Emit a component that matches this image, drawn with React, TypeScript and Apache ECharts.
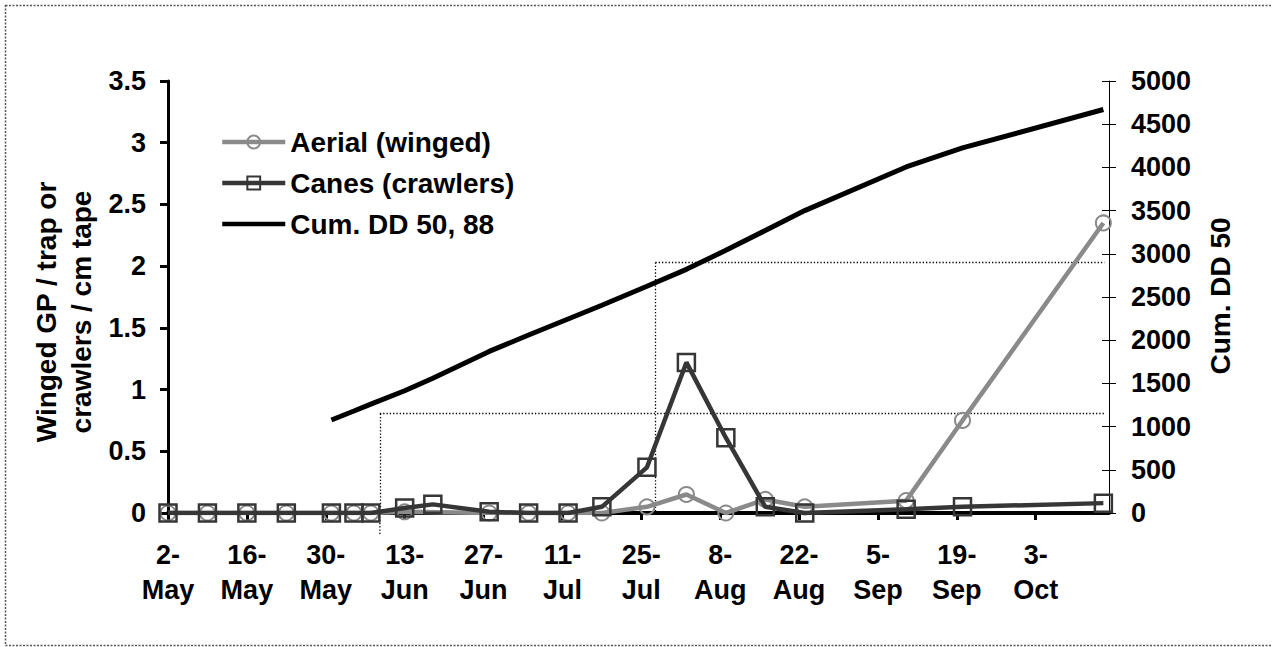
import React, { useEffect, useRef } from 'react';
import * as echarts from 'echarts';

// ---- data (days counted from 2-May) ----
const tickLabels = ['2-\nMay', '16-\nMay', '30-\nMay', '13-\nJun', '27-\nJun', '11-\nJul', '25-\nJul', '8-\nAug', '22-\nAug', '5-\nSep', '19-\nSep', '3-\nOct'];
const tickStepDays = 14;
const axisMaxDay = 167;

const sampleDays = [0, 7, 14, 21, 29, 33, 36, 42, 47, 57, 64, 71, 77, 85, 92, 99, 106, 113, 131, 141, 166];
const aerialWinged = [0, 0, 0, 0, 0, 0, 0, 0.01, null, 0, 0, 0, 0, 0.05, 0.15, 0, 0.11, 0.05, 0.1, 0.75, 2.35];
const canesCrawlers = [0, 0, 0, 0, 0, 0, 0, 0.04, 0.07, 0.01, 0, 0, 0.05, 0.37, 1.22, 0.61, 0.05, 0, 0.03, 0.05, 0.08];

const ddDays = [29, 33, 36, 42, 47, 57, 64, 71, 77, 85, 92, 99, 106, 113, 131, 141, 166];
const cumDD = [1076, 1180, 1260, 1415, 1560, 1870, 2060, 2245, 2405, 2625, 2820, 3040, 3270, 3500, 4005, 4225, 4670];

// reference (dotted) lines: [day, DD]
const refLowDay = 37.6;
const refLowDD = 1150;
const refHighDay = 86.5;
const refHighDD = 2900;
const refEndDay = 166.2;

const FONT = '"Liberation Sans", Arial, Helvetica, sans-serif';
const AERIAL_COLOR = '#8a8a8a';
const CANES_COLOR = '#363636';

export default function App() {
  const ref = useRef<HTMLDivElement>(null);

  useEffect(() => {
    if (!ref.current) return;
    const chart = echarts.init(ref.current, null, { renderer: 'svg' });
    const pair = (xs: number[], ys: (number | null)[]) => xs.map((x, i) => [x, ys[i]]);
    const lbl = { fontFamily: FONT, fontWeight: 'bold' as const, fontSize: 27, color: '#000' };
    const dotted = { color: '#000', width: 1.3, type: [1.3, 2] as any };

    chart.setOption({
      animation: false,
      backgroundColor: '#fff',
      grid: { left: 168, right: 163, top: 81, bottom: 134, containLabel: false, outerBoundsMode: 'none' },
      legend: {
        show: true,
        orient: 'vertical',
        left: 220,
        top: 127,
        padding: 0,
        itemWidth: 63,
        itemHeight: 16,
        itemGap: 11,
        symbolKeepAspect: true,
        lineStyle: { width: 'inherit' },
        textStyle: { ...lbl, fontSize: 28, lineHeight: 30 },
        data: [
          { name: 'Aerial (winged)' },
          { name: 'Canes (crawlers)' },
          {
            name: 'Cum. DD 50, 88',
            icon: 'path://M0,0H63V4.5H0Z',
            itemStyle: { color: '#000', borderWidth: 0 },
          },
        ],
      },
      xAxis: {
        type: 'value',
        min: 0,
        max: axisMaxDay,
        interval: tickStepDays,
        axisLine: { show: true, onZero: false, lineStyle: { color: '#000', width: 4 } },
        axisTick: { show: true, length: 7, lineStyle: { color: '#000', width: 3 } },
        axisLabel: {
          ...lbl,
          lineHeight: 35,
          margin: 24,
          showMaxLabel: false,
          formatter: (v: number) => {
            const i = Math.round(v / tickStepDays);
            return Math.abs(v - i * tickStepDays) < 0.01 && i < tickLabels.length ? tickLabels[i] : '';
          },
        },
        splitLine: { show: false },
      },
      yAxis: [
        {
          type: 'value',
          min: 0,
          max: 3.5,
          interval: 0.5,
          position: 'left',
          axisLine: { show: true, lineStyle: { color: '#000', width: 3 } },
          axisTick: { show: true, length: 8, lineStyle: { color: '#000', width: 3 } },
          axisLabel: { ...lbl, margin: 22, formatter: (v: number) => String(v) },
          splitLine: { show: false },
        },
        {
          type: 'value',
          min: 0,
          max: 5000,
          interval: 500,
          position: 'right',
          axisLine: { show: true, lineStyle: { color: '#000', width: 1 } },
          axisTick: { show: true, length: 7, lineStyle: { color: '#000', width: 1 } },
          axisLabel: { ...lbl, margin: 22, formatter: (v: number) => String(v) },
          splitLine: { show: false },
        },
        {
          type: 'value',
          min: 0,
          max: 5000,
          interval: 500,
          position: 'right',
          axisLine: { show: false },
          axisTick: { show: true, inside: true, length: 7, lineStyle: { color: '#000', width: 1 } },
          axisLabel: { show: false },
          splitLine: { show: false },
        },
      ],
      series: [
        {
          name: 'Aerial (winged)',
          type: 'line',
          yAxisIndex: 0,
          data: pair(sampleDays, aerialWinged),
          connectNulls: true,
          symbol: 'circle',
          symbolSize: 15,
          showAllSymbol: true,
          lineStyle: { color: AERIAL_COLOR, width: 4.5 },
          itemStyle: { color: 'rgba(255,255,255,0)', borderColor: AERIAL_COLOR, borderWidth: 2 },
          z: 3,
        },
        {
          name: 'Canes (crawlers)',
          type: 'line',
          yAxisIndex: 0,
          data: pair(sampleDays, canesCrawlers),
          symbol: 'rect',
          symbolSize: 17,
          showAllSymbol: true,
          lineStyle: { color: CANES_COLOR, width: 4.5 },
          itemStyle: { color: 'rgba(255,255,255,0)', borderColor: CANES_COLOR, borderWidth: 2.5 },
          z: 4,
        },
        {
          name: 'Cum. DD 50, 88',
          type: 'line',
          yAxisIndex: 1,
          data: pair(ddDays, cumDD),
          symbol: 'none',
          lineStyle: { color: '#000', width: 5 },
          itemStyle: { color: '#000' },
          z: 5,
          markLine: {
            silent: true,
            symbol: ['none', 'none'],
            label: { show: false },
            lineStyle: dotted,
            z: 1,
            data: [
              [{ coord: [refLowDay, refLowDD] }, { coord: [refEndDay, refLowDD] }],
              [{ coord: [refLowDay, refLowDD] }, { coord: [refLowDay, 0] }],
              [{ coord: [refHighDay, refHighDD] }, { coord: [refEndDay, refHighDD] }],
              [{ coord: [refHighDay, refHighDD] }, { coord: [refHighDay, 0] }],
            ],
          },
        },
      ],
    });

    const p0 = chart.convertToPixel({ xAxisIndex: 0, yAxisIndex: 1 } as any, [refLowDay, 0]) as number[];
    const titleFont = `bold 28px ${FONT}`;
    chart.setOption({
      graphic: [
        {
          type: 'rect',
          silent: true,
          z: -1,
          shape: { x: 5.5, y: 5.5, width: 1270, height: 640 },
          style: { fill: 'none', stroke: '#555', lineWidth: 1.5, lineDash: [2, 1.5] },
        },
        {
          type: 'text',
          x: 64,
          y: 312,
          rotation: Math.PI / 2,
          style: {
            text: 'Winged GP / trap or\ncrawlers / cm tape',
            font: titleFont,
            fill: '#000',
            lineHeight: 35,
            textAlign: 'center',
            textVerticalAlign: 'middle',
            align: 'center',
            verticalAlign: 'middle',
          },
        },
        {
          type: 'text',
          x: 1220,
          y: 296,
          rotation: Math.PI / 2,
          style: {
            text: 'Cum. DD 50',
            font: titleFont,
            fill: '#000',
            textAlign: 'center',
            textVerticalAlign: 'middle',
            align: 'center',
            verticalAlign: 'middle',
          },
        },
        {
          type: 'line',
          silent: true,
          shape: { x1: p0[0], y1: p0[1], x2: p0[0], y2: p0[1] + 22 },
          style: { stroke: '#000', lineWidth: 1.3, lineDash: [1.3, 2] },
        },
      ],
    });

    return () => chart.dispose();
  }, []);

  return (
    <div
      ref={ref}
      style={{ position: 'absolute', left: 0, top: 0, width: 1272, height: 647, background: '#fff' }}
    />
  );
}
